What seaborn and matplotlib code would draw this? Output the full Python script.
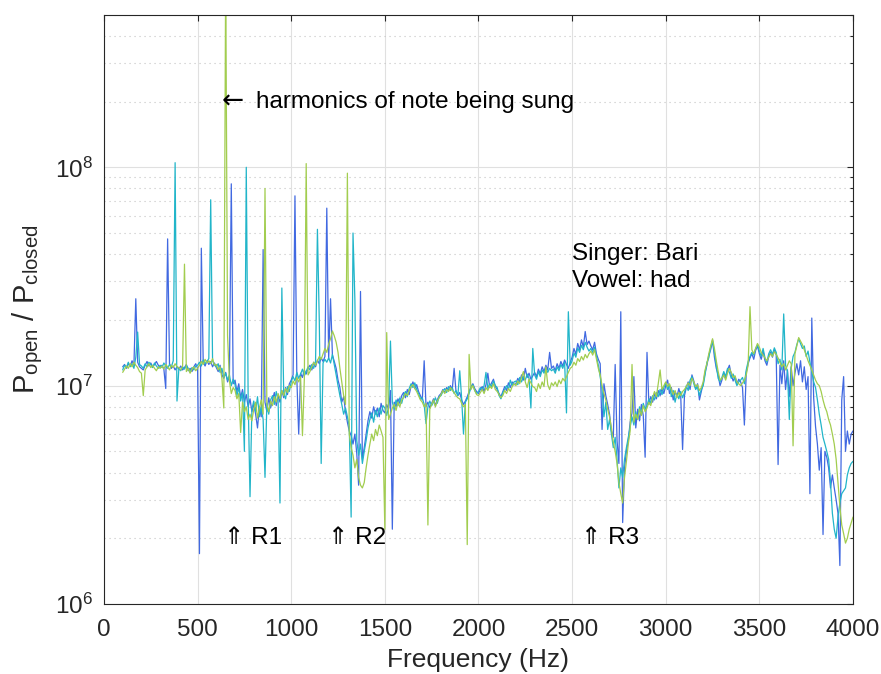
import numpy as np
import pandas as pd
import matplotlib
matplotlib.use("Agg")
import matplotlib.pyplot as plt
from matplotlib.ticker import FixedLocator, LogLocator, NullLocator, NullFormatter
import seaborn as sns

# Frequency bins of the spectra (Hz)
freq_hz = np.arange(100, 4001, 10)

# P_open / P_closed for three takes, in units of 1e6
ratio_take1 = [
    12.2, 12.5, 12.0, 12.6, 12.3, 13.0, 12.4, 25.0, 12.8, 12.2,
    12.0, 11.8, 12.4, 12.9, 12.3, 12.7, 12.2, 12.5, 12.9, 12.4,
    12.1, 12.4, 11.9, 9.7, 47.0, 12.6, 12.0, 12.3, 11.8, 12.2,
    11.9, 12.3, 11.8, 12.1, 12.5, 11.7, 12.0, 11.6, 12.2, 12.6,
    12.0, 1.7, 42.6, 12.8, 12.3, 13.0, 12.5, 12.9, 12.2, 12.7,
    12.1, 11.6, 12.4, 11.2, 10.8, 11.5, 10.4, 11.0, 84.0, 10.2,
    10.6, 9.4, 10.2, 8.8, 9.6, 8.4, 9.1, 8.0, 8.7, 7.6,
    8.2, 7.4, 6.4, 8.0, 7.2, 42.0, 8.4, 7.6, 8.8, 7.9,
    8.6, 9.3, 8.1, 9.0, 8.4, 9.5, 8.8, 9.8, 9.1, 10.2,
    10.6, 11.2, 74.0, 10.8, 6.0, 11.4, 10.9, 11.8, 11.3, 12.0,
    12.4, 11.8, 12.8, 12.2, 13.1, 12.6, 13.4, 12.9, 13.6, 65.0,
    13.2, 25.0, 13.8, 12.9, 12.0, 10.6, 9.8, 8.4, 8.9, 7.6,
    6.8, 6.2, 5.9, 5.4, 6.0, 4.9, 3.5, 27.0, 4.6, 5.2,
    6.0, 6.9, 7.6, 7.1, 8.0, 7.4, 7.9, 7.2, 8.3, 7.7,
    7.5, 8.2, 7.8, 9.5, 2.2, 8.4, 8.0, 8.7, 8.3, 9.0,
    9.3, 8.8, 9.6, 9.1, 9.9, 10.4, 9.7, 10.1, 9.4, 9.0,
    8.6, 13.0, 8.0, 8.4, 7.9, 8.3, 8.7, 8.1, 8.6, 9.0,
    9.2, 9.6, 9.3, 9.8, 9.5, 10.0, 9.6, 12.0, 9.4, 9.0,
    9.3, 8.6, 8.2, 8.5, 8.9, 9.4, 9.9, 10.2, 9.7, 9.4,
    9.2, 9.6, 9.9, 9.4, 10.1, 11.4, 9.8, 10.3, 10.7, 9.9,
    9.6, 9.2, 8.9, 9.4, 9.9, 9.5, 10.3, 9.8, 10.4, 10.1,
    10.2, 10.8, 10.4, 11.2, 10.6, 12.0, 10.9, 11.4, 10.7, 11.1,
    11.5, 11.0, 11.9, 11.3, 12.2, 11.6, 12.4, 11.8, 14.2, 12.0,
    12.3, 11.7, 12.6, 12.0, 12.9, 12.3, 13.1, 12.5, 12.0, 12.8,
    13.5, 14.8, 13.9, 15.6, 14.6, 16.2, 15.0, 17.7, 15.4, 16.0,
    15.2, 14.6, 15.8, 14.0, 13.2, 12.6, 6.3, 10.2, 9.0, 8.2,
    7.4, 6.2, 5.8, 12.5, 5.6, 4.4, 21.8, 2.36, 4.2, 5.0,
    5.6, 6.8, 7.5, 11.0, 6.4, 7.8, 6.9, 8.2, 7.3, 4.7,
    14.2, 8.2, 8.9, 8.4, 9.2, 8.7, 9.5, 9.0, 9.7, 9.2,
    10.0, 10.6, 9.2, 9.8, 8.6, 9.4, 8.9, 9.7, 9.0, 5.1,
    9.0, 9.8, 10.4, 9.6, 11.2, 10.5, 9.7, 10.2, 8.6, 9.4,
    10.2, 11.5, 12.4, 13.8, 14.6, 16.2, 13.5, 12.0, 11.2, 10.0,
    10.6, 11.4, 10.8, 11.8, 12.4, 11.2, 10.5, 11.0, 10.2, 10.7,
    10.4, 9.8, 6.6, 11.5, 12.6, 13.4, 14.0, 13.2, 14.5, 15.2,
    14.0, 13.2, 14.4, 13.0, 12.4, 13.6, 14.2, 13.5, 14.6, 13.8,
    4.35, 12.4, 10.2, 13.0, 9.6, 11.8, 8.9, 12.2, 10.0, 11.4,
    12.6, 11.2, 13.0, 10.4, 12.2, 9.6, 11.0, 3.2, 20.4, 8.8,
    6.5, 5.4, 4.1, 5.2, 2.08, 5.0, 4.7, 4.2, 3.4, 3.9,
    3.4, 3.0, 2.6, 1.5, 8.6, 11.0, 5.0, 6.2, 5.4, 6.0,
    6.2,
]

ratio_take2 = [
    11.8, 12.4, 12.1, 12.8, 12.2, 12.6, 12.0, 13.5, 17.6, 12.5,
    12.3, 12.0, 12.6, 12.2, 12.8, 12.5, 12.1, 12.7, 12.3, 12.0,
    12.4, 12.1, 12.7, 12.3, 12.0, 12.5, 12.2, 13.0, 105.0, 8.5,
    12.0, 11.7, 12.2, 11.9, 12.4, 12.0, 11.5, 12.1, 11.8, 12.3,
    12.4, 12.8, 12.3, 13.1, 12.6, 12.9, 13.3, 71.0, 13.0, 12.4,
    12.2, 12.6, 11.5, 12.0, 10.9, 11.4, 10.6, 11.2, 10.0, 10.7,
    10.1, 9.0, 9.8, 8.5, 9.3, 5.0, 100.0, 8.8, 3.1, 7.8,
    8.5, 7.6, 8.9, 7.2, 8.0, 7.0, 3.8, 8.3, 7.4, 8.6,
    9.0, 8.2, 9.4, 8.6, 2.9, 28.0, 9.2, 8.7, 9.9, 9.4,
    10.4, 11.0, 10.5, 11.5, 10.8, 11.3, 11.9, 11.1, 11.6, 12.2,
    11.8, 12.5, 12.0, 12.9, 52.0, 19.5, 4.4, 12.7, 13.2, 12.8,
    13.4, 12.7, 13.9, 12.5, 11.2, 10.0, 9.0, 8.2, 7.4, 7.9,
    7.2, 6.5, 2.5, 50.0, 24.7, 5.6, 4.8, 5.4, 4.4, 5.0,
    5.6, 6.4, 7.0, 7.5, 6.8, 7.7, 7.2, 7.9, 7.4, 8.1,
    7.9, 7.3, 8.0, 16.0, 8.4, 7.8, 8.6, 8.1, 8.8, 8.3,
    9.0, 9.4, 8.9, 9.7, 10.2, 9.8, 10.3, 9.6, 9.2, 8.7,
    8.8, 8.2, 6.7, 8.0, 8.5, 8.1, 8.4, 8.8, 8.3, 8.9,
    9.0, 9.4, 9.7, 9.3, 9.9, 9.5, 9.8, 9.2, 9.5, 9.0,
    11.7, 8.8, 6.0, 8.4, 8.7, 9.2, 9.8, 10.1, 9.5, 9.2,
    9.4, 9.8, 9.5, 10.0, 11.5, 9.7, 10.2, 9.9, 10.5, 10.0,
    9.8, 9.0, 8.7, 9.3, 9.6, 10.0, 9.6, 10.6, 10.0, 10.4,
    10.5, 10.1, 10.9, 10.4, 11.0, 10.6, 11.3, 10.8, 7.9, 14.8,
    11.2, 10.7, 11.6, 11.0, 11.8, 11.4, 12.1, 11.5, 12.0, 11.7,
    11.9, 11.4, 12.2, 11.7, 12.5, 12.0, 12.8, 7.5, 21.8, 12.4,
    13.0, 14.1, 13.5, 14.9, 14.2, 15.3, 14.6, 15.8, 15.0, 14.4,
    14.8, 14.2, 15.0, 13.6, 12.4, 11.0, 9.6, 7.2, 8.4, 6.3,
    7.0, 6.0, 5.2, 5.8, 4.6, 3.4, 4.2, 3.8, 4.6, 5.2,
    5.8, 6.5, 7.2, 6.6, 7.6, 7.0, 8.0, 7.4, 8.3, 7.8,
    8.1, 8.7, 8.3, 9.0, 8.6, 9.3, 8.9, 9.6, 9.1, 9.8,
    10.3, 9.6, 10.1, 8.9, 9.5, 8.4, 9.2, 8.7, 9.4, 8.8,
    9.3, 10.0, 9.5, 10.6, 11.0, 10.2, 9.6, 9.9, 9.0, 9.6,
    10.0, 11.2, 12.8, 13.4, 15.0, 16.0, 14.2, 12.4, 10.8, 10.4,
    10.9, 11.6, 11.0, 12.0, 11.5, 10.8, 11.3, 10.6, 10.0, 10.4,
    10.6, 10.9, 10.2, 11.8, 12.9, 13.6, 14.2, 13.8, 14.8, 15.4,
    14.4, 13.6, 14.8, 13.4, 12.8, 14.0, 14.6, 13.9, 14.9, 14.2,
    12.6, 13.2, 11.8, 21.3, 12.4, 11.6, 7.0, 12.0, 13.6, 14.2,
    15.4, 16.4, 15.6, 14.8, 15.2, 13.6, 14.4, 12.8, 11.6, 10.4,
    9.8, 8.6, 7.4, 6.6, 5.8, 5.4, 5.0, 4.6, 3.6, 2.6,
    2.2, 2.0, 2.5, 2.9, 3.2, 3.3, 3.4, 3.9, 4.2, 4.4,
    4.5,
]

ratio_take3 = [
    11.5, 11.9, 12.3, 12.0, 12.6, 12.2, 12.8, 12.4, 12.1, 11.6,
    11.4, 9.0, 11.8, 12.2, 12.6, 12.1, 12.4, 12.0, 11.7, 12.2,
    12.0, 12.3, 11.9, 12.5, 12.2, 11.8, 12.4, 12.1, 12.6, 12.2,
    12.1, 11.8, 12.3, 36.0, 11.6, 12.0, 11.4, 11.9, 12.2, 11.7,
    12.0, 12.4, 12.9, 12.5, 13.2, 12.7, 13.0, 12.6, 13.3, 12.4,
    12.5, 11.8, 12.2, 10.8, 7.9, 800.0, 17.0, 10.5, 9.2, 9.8,
    9.5, 8.7, 9.2, 6.1, 8.4, 7.6, 8.0, 7.0, 7.4, 6.9,
    7.8, 8.4, 7.1, 7.9, 8.6, 7.4, 80.0, 8.2, 7.6, 8.5,
    8.1, 8.9, 8.4, 9.2, 8.7, 9.5, 9.0, 9.7, 9.3, 10.0,
    9.8, 10.5, 10.1, 10.9, 10.4, 11.0, 5.9, 10.7, 104.0, 11.2,
    11.6, 12.2, 12.8, 12.4, 13.0, 13.6, 13.2, 14.0, 14.8, 14.2,
    15.5, 16.4, 17.8, 16.9, 15.8, 14.2, 12.0, 10.4, 9.0, 8.2,
    94.0, 6.0, 5.2, 4.8, 4.2, 4.6, 3.8, 3.5, 3.4, 3.6,
    4.2, 4.8, 5.4, 6.0, 5.6, 6.3, 5.9, 6.6, 6.2, 5.8,
    2.2, 17.5, 7.0, 7.4, 7.9, 8.2, 7.7, 8.4, 8.0, 8.6,
    8.8, 9.2, 9.0, 9.5, 9.9, 10.1, 9.7, 9.4, 9.0, 8.6,
    8.4, 8.0, 8.3, 2.3, 7.8, 8.2, 8.6, 8.0, 8.5, 8.8,
    9.1, 9.5, 9.2, 9.6, 9.4, 9.8, 9.5, 9.3, 9.0, 8.8,
    8.7, 8.3, 8.0, 8.2, 1.87, 13.9, 9.6, 10.0, 9.5, 9.1,
    9.0, 9.3, 9.6, 9.2, 9.8, 9.5, 10.0, 9.7, 10.2, 9.6,
    9.4, 9.1, 8.8, 9.0, 9.5, 9.2, 9.7, 9.4, 9.9, 10.2,
    10.0, 10.5, 10.2, 10.9, 11.6, 10.4, 9.8, 10.7, 10.3, 9.9,
    9.8, 9.4, 10.2, 9.7, 10.4, 9.9, 12.2, 10.1, 9.6, 10.3,
    10.0, 10.4, 9.9, 10.6, 10.2, 10.8, 10.5, 11.0, 11.5, 12.0,
    12.2, 12.8, 12.4, 13.3, 12.9, 13.6, 13.1, 13.9, 13.4, 14.0,
    14.4, 13.8, 14.6, 13.2, 12.0, 11.2, 10.0, 9.2, 8.6, 7.8,
    7.2, 6.4, 5.5, 5.0, 4.4, 3.6, 3.2, 2.9, 3.8, 4.5,
    5.4, 6.2, 12.5, 6.8, 7.4, 7.0, 7.8, 7.3, 8.1, 7.6,
    7.9, 8.4, 8.1, 8.8, 9.4, 8.9, 10.2, 11.8, 9.6, 10.0,
    10.4, 9.9, 10.2, 9.6, 9.1, 9.5, 8.8, 9.3, 9.0, 9.4,
    9.6, 9.9, 10.3, 10.0, 10.8, 10.4, 9.9, 10.1, 9.5, 9.8,
    10.4, 11.8, 12.6, 14.0, 15.2, 16.4, 14.8, 13.0, 11.6, 10.6,
    10.8, 11.2, 10.6, 11.4, 12.0, 11.5, 10.9, 11.1, 10.4, 10.2,
    10.0, 10.3, 10.6, 11.2, 12.4, 23.0, 14.6, 14.0, 14.8, 15.6,
    15.0, 14.2, 13.8, 13.4, 13.0, 13.5, 14.0, 13.6, 14.3, 13.9,
    13.4, 12.8, 12.2, 12.6, 11.8, 12.4, 13.0, 12.6, 5.3, 14.0,
    15.2, 16.6, 16.0, 15.4, 14.6, 13.8, 13.0, 12.4, 11.8, 11.2,
    10.6, 10.2, 10.0, 9.4, 8.6, 8.0, 7.6, 7.0, 6.6, 6.0,
    5.4, 4.6, 3.6, 2.8, 2.3, 2.1, 1.9, 2.0, 2.2, 2.35,
    2.5,
]

take_names = ["take 1", "take 2", "take 3"]
take_colors = ["#4169e1", "#21b5c9", "#a2cd4f"]

y_ticks = [1e6, 1e7, 1e8]
x_ticks = [0, 500, 1000, 1500, 2000, 2500, 3000, 3500, 4000]

for series in (ratio_take1, ratio_take2, ratio_take3):
    assert len(series) == len(freq_hz)

df = pd.DataFrame({
    "freq": np.tile(freq_hz, 3),
    "ratio": np.concatenate([ratio_take1, ratio_take2, ratio_take3]) * 1e6,
    "take": np.repeat(take_names, len(freq_hz)),
})

sns.set_theme(style="white")
axis_font = "Liberation Sans"
plt.rcParams["font.family"] = [axis_font, "DejaVu Sans"]
plt.rcParams["mathtext.fontset"] = "custom"
plt.rcParams["mathtext.rm"] = axis_font
plt.rcParams["mathtext.it"] = axis_font
plt.rcParams["mathtext.bf"] = axis_font

ink = "#262626"
fig = plt.figure(figsize=(8.81, 6.74), dpi=100)
ax = fig.add_axes([0.1180, 0.1039, 0.8502, 0.8743])

sns.lineplot(data=df, x="freq", y="ratio", hue="take", hue_order=take_names,
             palette=take_colors, estimator=None, sort=False, linewidth=0.9,
             legend=False, ax=ax)

ax.set_yscale("log")
ax.set_xlim(0, 4000)
ax.set_ylim(1e6, 5e8)
ax.xaxis.set_major_locator(FixedLocator(x_ticks))
ax.xaxis.set_minor_locator(NullLocator())
ax.yaxis.set_major_locator(FixedLocator(y_ticks))
ax.yaxis.set_minor_locator(LogLocator(base=10, subs=np.arange(2, 10)))
ax.yaxis.set_minor_formatter(NullFormatter())

ax.grid(True, which="major", color="#e0e0e0", linewidth=0.8, linestyle="-")
ax.grid(True, which="minor", axis="y", color="#c4c4c4", linewidth=0.8,
        linestyle=(0, (1.0, 3.5)))
ax.set_axisbelow(True)

for side in ax.spines.values():
    side.set_color(ink)
    side.set_linewidth(0.8)
ax.tick_params(which="both", direction="in", top=True, right=True, color=ink,
               labelcolor=ink, labelsize=17.5, width=0.8)
ax.tick_params(which="major", length=4.5)
ax.tick_params(which="minor", length=2.3)
ax.tick_params(axis="x", which="major", pad=11)
ax.tick_params(axis="y", which="major", pad=8)

ax.set_xlabel("Frequency (Hz)", fontsize=19, color=ink, labelpad=5)
ax.set_ylabel(r"P$_{\mathrm{open}}$ / P$_{\mathrm{closed}}$", fontsize=21,
              color=ink, labelpad=7)

note_kw = dict(fontsize=17.5, color="black", va="center", ha="left",
               family=["Liberation Sans", "DejaVu Sans"])
ax.text(628, 2.0e8, "\u2190", fontsize=19, color="black", va="center",
        ha="left", family=["DejaVu Sans"])
ax.text(810, 2.0e8, "harmonics of note being sung", **note_kw)
ax.text(2500, 4.0e7, "Singer: Bari", **note_kw)
ax.text(2500, 3.0e7, "Vowel: had", **note_kw)
for f0, label in [(640, "R1"), (1195, "R2"), (2545, "R3")]:
    ax.text(f0, 2.0e6, "\u21d1 " + label, **note_kw)

fig.savefig("out.png", dpi=100)
